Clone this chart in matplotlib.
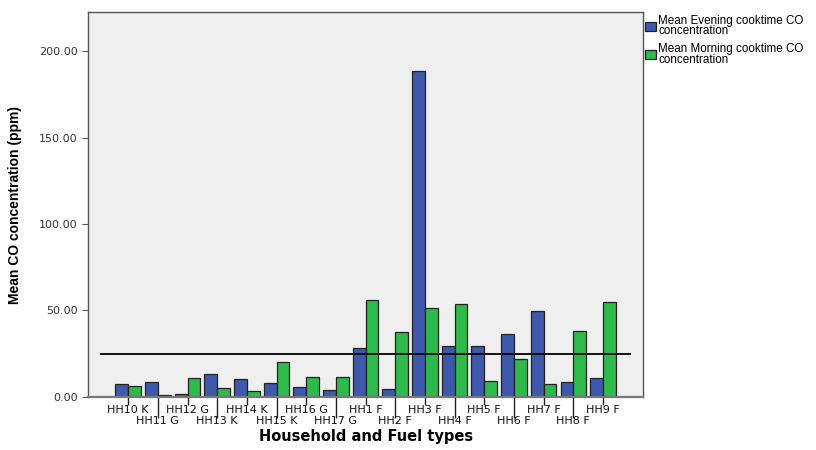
import numpy as np
import matplotlib.pyplot as plt

# Households / fuel types (K = kerosene, G = gas, F = firewood)
households = ['HH10 K', 'HH11 G', 'HH12 G', 'HH13 K', 'HH14 K', 'HH15 K',
              'HH16 G', 'HH17 G', 'HH1 F', 'HH2 F', 'HH3 F', 'HH4 F',
              'HH5 F', 'HH6 F', 'HH7 F', 'HH8 F', 'HH9 F']

# Mean CO concentration (ppm)
evening = [7.5, 8.8, 1.5, 13.1, 10.2, 8.1, 5.8, 3.9, 28.5, 4.4,
           188.4, 29.5, 29.3, 36.4, 49.7, 8.9, 11.0]
morning = [6.4, 1.0, 11.0, 5.2, 3.5, 20.2, 11.4, 11.6, 56.0, 37.6,
           51.3, 53.8, 9.2, 22.2, 7.7, 38.2, 54.9]

guideline = 25.0

plt.rcParams['font.family'] = ['DejaVu Sans']

fig = plt.figure(figsize=(8.16, 4.5), dpi=100)
ax = fig.add_axes([0.108, 0.118, 0.68, 0.855])
ax.set_facecolor('#efefef')

x = np.arange(len(households))
w = 0.43
ax.bar(x - w / 2, evening, w, color='#3e58ac', edgecolor='#222222',
       linewidth=0.9, label='Mean Evening cooktime CO\nconcentration')
ax.bar(x + w / 2, morning, w, color='#2dba4a', edgecolor='#222222',
       linewidth=0.9, label='Mean Morning cooktime CO\nconcentration')

ax.hlines(guideline, -0.95, len(households) - 0.05, color='#111111', linewidth=1.4)

ax.set_xlim(-1.35, len(households) - 1 + 1.35)
ax.set_ylim(0, 222.5)

# y axis
ax.set_yticks([0, 50, 100, 150, 200])
ax.set_yticklabels(['%.2f' % v for v in [0, 50, 100, 150, 200]])
ax.tick_params(axis='y', length=4, width=0.8, colors='#555555',
               labelcolor='#333333', labelsize=8)
ax.set_ylabel('Mean CO concentration (ppm)', fontsize=10, fontweight='bold',
              family='Liberation Sans', labelpad=12)

# staggered x tick labels
even = x[::2]
odd = x[1::2]
ax.set_xticks(even)
ax.set_xticklabels(households[::2])
ax.set_xticks(odd, minor=True)
ax.set_xticklabels(households[1::2], minor=True)
ax.tick_params(axis='x', which='major', length=6, width=1.0, pad=0,
               labelsize=8, color='#222222', labelcolor='#111111')
ax.tick_params(axis='x', which='minor', length=15, width=1.0, pad=-1,
               labelsize=8, color='#222222', labelcolor='#111111')
ax.set_xlabel('Household and Fuel types', fontsize=10.5, fontweight='bold',
              labelpad=2)

for side in ['left', 'right', 'top', 'bottom']:
    ax.spines[side].set_color('#555555')
    ax.spines[side].set_linewidth(1.0)
ax.spines['bottom'].set_linewidth(1.6)
ax.spines['bottom'].set_color('#777777')

leg = fig.legend(loc='upper left', bbox_to_anchor=(0.785, 0.978),
                 frameon=False, handlelength=0.9,
                 handleheight=0.8, handletextpad=0.2, labelspacing=0.5,
                 borderaxespad=0, prop={'family': 'Liberation Sans', 'size': 8.4})
for txt in leg.get_texts():
    txt.set_linespacing(0.85)

fig.savefig('out.png', dpi=100)
